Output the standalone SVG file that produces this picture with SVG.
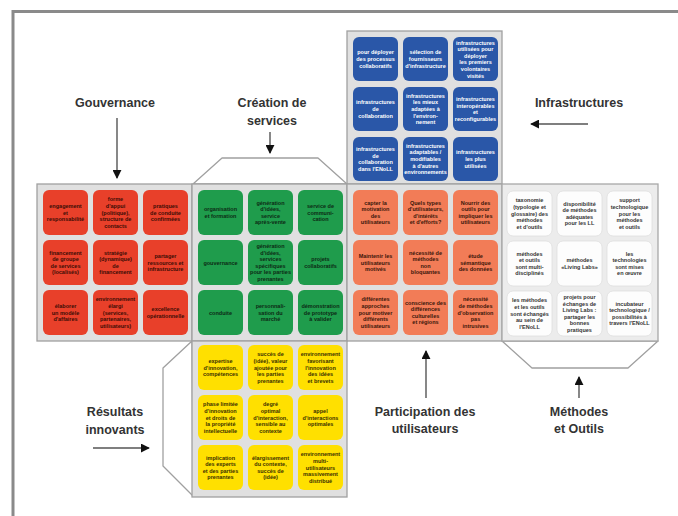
<svg xmlns="http://www.w3.org/2000/svg" width="678" height="516" viewBox="0 0 678 516">
  <style>
    .frame { fill: none; stroke: #8a8a8a; stroke-width: 3; }
    .face { fill: #e0e0e0; stroke: #a0a0a0; stroke-width: 1.3; }
    .face-w { fill: #ececec; stroke: #a8a8a8; stroke-width: 1.3; }
    .lid { fill: #ffffff; stroke: #a0a0a0; stroke-width: 1.3; stroke-linejoin: round; }
    .red { fill: #e8402a; }
    .green { fill: #1f9c4c; }
    .orange { fill: #f27c57; }
    .blue { fill: #2a57a8; }
    .yellow { fill: #ffe000; }
    .white { fill: #fdfdfd; stroke: #dedede; stroke-width: 0.8; }
    .t { font-family: "Liberation Sans", Arial, sans-serif; font-size: 5.5px; font-weight: bold; text-anchor: middle; }
    .tr { fill: #3b0c05; }
    .tg { fill: #0c2a14; }
    .to { fill: #3a160a; }
    .ty { fill: #3a3000; }
    .tw { fill: #333333; }
    .tb { fill: #ffffff; }
    .lbl { font-family: "Liberation Sans", Arial, sans-serif; font-size: 12.5px; font-weight: bold; fill: #333333; text-anchor: middle; }
    .conn { stroke: #555555; stroke-width: 1.4; fill: none; marker-end: url(#head); }
  </style>
  <defs>
    <marker id="head" viewBox="0 0 10 10" refX="9" refY="5" markerWidth="9" markerHeight="9" markerUnits="userSpaceOnUse" orient="auto">
      <path d="M0,0 L10,5 L0,10 z" fill="#111111"/>
    </marker>
  </defs>

  <rect width="678" height="516" fill="#ffffff"/>
  <!-- page frame -->
  <path class="frame" d="M13,516 V11.5 H678"/>

  <!-- lids of the unfolded cube -->
  <g id="lids">
    <path class="lid" d="M193,184 L222,158 H318 L347,184 Z"/>
    <path class="lid" d="M502,341 L532,368 H628 L658,341 Z"/>
    <path class="lid" d="M192,341 L163,368 V466 L193,496 Z"/>
  </g>

  <!-- faces -->
  <g id="faces">
    <rect class="face" x="347" y="31" width="155" height="153"/>
    <rect class="face" x="37" y="184" width="155" height="157"/>
    <rect class="face" x="192" y="184" width="155" height="157"/>
    <rect class="face" x="347" y="184" width="155" height="157"/>
    <rect class="face-w" x="502" y="184" width="156" height="157"/>
    <rect class="face" x="192" y="341" width="155" height="156"/>
  </g>

  <!-- Gouvernance (red) -->
  <g id="gov-1"><rect class="red" x="43" y="190" width="45" height="45" rx="6"/><text class="t tr" x="65.5" y="207.9">engagement<tspan x="65.5" dy="6.6">et</tspan><tspan x="65.5" dy="6.6">responsabilité</tspan></text></g>
  <g id="gov-2"><rect class="red" x="93" y="190" width="45" height="45" rx="6"/><text class="t tr" x="115.5" y="201.3">forme<tspan x="115.5" dy="6.6">d'appui</tspan><tspan x="115.5" dy="6.6">(politique),</tspan><tspan x="115.5" dy="6.6">structure de</tspan><tspan x="115.5" dy="6.6">contacts</tspan></text></g>
  <g id="gov-3"><rect class="red" x="143" y="190" width="45" height="45" rx="6"/><text class="t tr" x="165.5" y="207.9">pratiques<tspan x="165.5" dy="6.6">de conduite</tspan><tspan x="165.5" dy="6.6">confirmées</tspan></text></g>
  <g id="gov-4"><rect class="red" x="43" y="240" width="45" height="45" rx="6"/><text class="t tr" x="65.5" y="254.6">financement<tspan x="65.5" dy="6.6">de groupe</tspan><tspan x="65.5" dy="6.6">de services</tspan><tspan x="65.5" dy="6.6">(localisés)</tspan></text></g>
  <g id="gov-5"><rect class="red" x="93" y="240" width="45" height="45" rx="6"/><text class="t tr" x="115.5" y="254.6">stratégie<tspan x="115.5" dy="6.6">(dynamique)</tspan><tspan x="115.5" dy="6.6">de</tspan><tspan x="115.5" dy="6.6">financement</tspan></text></g>
  <g id="gov-6"><rect class="red" x="143" y="240" width="45" height="45" rx="6"/><text class="t tr" x="165.5" y="257.9">partager<tspan x="165.5" dy="6.6">ressources et</tspan><tspan x="165.5" dy="6.6">infrastructure</tspan></text></g>
  <g id="gov-7"><rect class="red" x="43" y="290" width="45" height="45" rx="6"/><text class="t tr" x="65.5" y="307.9">élaborer<tspan x="65.5" dy="6.6">un modèle</tspan><tspan x="65.5" dy="6.6">d'affaires</tspan></text></g>
  <g id="gov-8"><rect class="red" x="93" y="290" width="45" height="45" rx="6"/><text class="t tr" x="115.5" y="301.3">environnement<tspan x="115.5" dy="6.6">élargi</tspan><tspan x="115.5" dy="6.6">(services,</tspan><tspan x="115.5" dy="6.6">partenaires,</tspan><tspan x="115.5" dy="6.6">utilisateurs)</tspan></text></g>
  <g id="gov-9"><rect class="red" x="143" y="290" width="45" height="45" rx="6"/><text class="t tr" x="165.5" y="311.2">excellence<tspan x="165.5" dy="6.6">opérationnelle</tspan></text></g>

  <!-- Création de services (green) -->
  <g id="srv-1"><rect class="green" x="198" y="190" width="45" height="45" rx="6"/><text class="t tg" x="220.5" y="211.2">organisation<tspan x="220.5" dy="6.6">et formation</tspan></text></g>
  <g id="srv-2"><rect class="green" x="248" y="190" width="45" height="45" rx="6"/><text class="t tg" x="270.5" y="204.6">génération<tspan x="270.5" dy="6.6">d'idées,</tspan><tspan x="270.5" dy="6.6">service</tspan><tspan x="270.5" dy="6.6">après-vente</tspan></text></g>
  <g id="srv-3"><rect class="green" x="298" y="190" width="45" height="45" rx="6"/><text class="t tg" x="320.5" y="207.9">service de<tspan x="320.5" dy="6.6">communi-</tspan><tspan x="320.5" dy="6.6">cation</tspan></text></g>
  <g id="srv-4"><rect class="green" x="198" y="240" width="45" height="45" rx="6"/><text class="t tg" x="220.5" y="264.5">gouvernance</text></g>
  <g id="srv-5"><rect class="green" x="248" y="240" width="45" height="45" rx="6"/><text class="t tg" x="270.5" y="248">génération<tspan x="270.5" dy="6.6">d'idées,</tspan><tspan x="270.5" dy="6.6">services</tspan><tspan x="270.5" dy="6.6">spécifiques</tspan><tspan x="270.5" dy="6.6">pour les parties</tspan><tspan x="270.5" dy="6.6">prenantes</tspan></text></g>
  <g id="srv-6"><rect class="green" x="298" y="240" width="45" height="45" rx="6"/><text class="t tg" x="320.5" y="261.2">projets<tspan x="320.5" dy="6.6">collaboratifs</tspan></text></g>
  <g id="srv-7"><rect class="green" x="198" y="290" width="45" height="45" rx="6"/><text class="t tg" x="220.5" y="314.5">conduite</text></g>
  <g id="srv-8"><rect class="green" x="248" y="290" width="45" height="45" rx="6"/><text class="t tg" x="270.5" y="307.9">personnali-<tspan x="270.5" dy="6.6">sation du</tspan><tspan x="270.5" dy="6.6">marché</tspan></text></g>
  <g id="srv-9"><rect class="green" x="298" y="290" width="45" height="45" rx="6"/><text class="t tg" x="320.5" y="307.9">démonstration<tspan x="320.5" dy="6.6">de prototype</tspan><tspan x="320.5" dy="6.6">à valider</tspan></text></g>

  <!-- Participation des utilisateurs (orange) -->
  <g id="usr-1"><rect class="orange" x="353" y="190" width="45" height="45" rx="6"/><text class="t to" x="375.5" y="204.6">capter la<tspan x="375.5" dy="6.6">motivation</tspan><tspan x="375.5" dy="6.6">des</tspan><tspan x="375.5" dy="6.6">utilisateurs</tspan></text></g>
  <g id="usr-2"><rect class="orange" x="403" y="190" width="45" height="45" rx="6"/><text class="t to" x="425.5" y="204.6">Quels types<tspan x="425.5" dy="6.6">d'utilisateurs,</tspan><tspan x="425.5" dy="6.6">d'intérêts</tspan><tspan x="425.5" dy="6.6">et d'efforts?</tspan></text></g>
  <g id="usr-3"><rect class="orange" x="453" y="190" width="45" height="45" rx="6"/><text class="t to" x="475.5" y="204.6">Nourrir des<tspan x="475.5" dy="6.6">outils pour</tspan><tspan x="475.5" dy="6.6">impliquer les</tspan><tspan x="475.5" dy="6.6">utilisateurs</tspan></text></g>
  <g id="usr-4"><rect class="orange" x="353" y="240" width="45" height="45" rx="6"/><text class="t to" x="375.5" y="257.9">Maintenir les<tspan x="375.5" dy="6.6">utilisateurs</tspan><tspan x="375.5" dy="6.6">motivés</tspan></text></g>
  <g id="usr-5"><rect class="orange" x="403" y="240" width="45" height="45" rx="6"/><text class="t to" x="425.5" y="254.6">nécessité de<tspan x="425.5" dy="6.6">méthodes</tspan><tspan x="425.5" dy="6.6">non</tspan><tspan x="425.5" dy="6.6">bloquantes</tspan></text></g>
  <g id="usr-6"><rect class="orange" x="453" y="240" width="45" height="45" rx="6"/><text class="t to" x="475.5" y="257.9">étude<tspan x="475.5" dy="6.6">sémantique</tspan><tspan x="475.5" dy="6.6">des données</tspan></text></g>
  <g id="usr-7"><rect class="orange" x="353" y="290" width="45" height="45" rx="6"/><text class="t to" x="375.5" y="301.3">différentes<tspan x="375.5" dy="6.6">approches</tspan><tspan x="375.5" dy="6.6">pour motiver</tspan><tspan x="375.5" dy="6.6">différents</tspan><tspan x="375.5" dy="6.6">utilisateurs</tspan></text></g>
  <g id="usr-8"><rect class="orange" x="403" y="290" width="45" height="45" rx="6"/><text class="t to" x="425.5" y="304.6">conscience des<tspan x="425.5" dy="6.6">différences</tspan><tspan x="425.5" dy="6.6">culturelles</tspan><tspan x="425.5" dy="6.6">et régions</tspan></text></g>
  <g id="usr-9"><rect class="orange" x="453" y="290" width="45" height="45" rx="6"/><text class="t to" x="475.5" y="301.3">nécessité<tspan x="475.5" dy="6.6">de méthodes</tspan><tspan x="475.5" dy="6.6">d'observation</tspan><tspan x="475.5" dy="6.6">pas</tspan><tspan x="475.5" dy="6.6">intrusives</tspan></text></g>

  <!-- Infrastructures (blue) -->
  <g id="inf-1"><rect class="blue" x="353" y="37" width="45" height="44" rx="6"/><text class="t tb" x="375.5" y="54.4">pour déployer<tspan x="375.5" dy="6.6">des processus</tspan><tspan x="375.5" dy="6.6">collaboratifs</tspan></text></g>
  <g id="inf-2"><rect class="blue" x="403" y="37" width="45" height="44" rx="6"/><text class="t tb" x="425.5" y="54.4">sélection de<tspan x="425.5" dy="6.6">fournisseurs</tspan><tspan x="425.5" dy="6.6">d'infrastructure</tspan></text></g>
  <g id="inf-3"><rect class="blue" x="453" y="37" width="45" height="44" rx="6"/><text class="t tb" x="475.5" y="44.5">infrastructures<tspan x="475.5" dy="6.6">utilisées pour</tspan><tspan x="475.5" dy="6.6">déployer</tspan><tspan x="475.5" dy="6.6">les premiers</tspan><tspan x="475.5" dy="6.6">volontaires</tspan><tspan x="475.5" dy="6.6">visités</tspan></text></g>
  <g id="inf-4"><rect class="blue" x="353" y="87" width="45" height="44" rx="6"/><text class="t tb" x="375.5" y="104.4">infrastructures<tspan x="375.5" dy="6.6">de</tspan><tspan x="375.5" dy="6.6">collaboration</tspan></text></g>
  <g id="inf-5"><rect class="blue" x="403" y="87" width="45" height="44" rx="6"/><text class="t tb" x="425.5" y="97.8">infrastructures<tspan x="425.5" dy="6.6">les mieux</tspan><tspan x="425.5" dy="6.6">adaptées à</tspan><tspan x="425.5" dy="6.6">l'environ-</tspan><tspan x="425.5" dy="6.6">nement</tspan></text></g>
  <g id="inf-6"><rect class="blue" x="453" y="87" width="45" height="44" rx="6"/><text class="t tb" x="475.5" y="101.1">infrastructures<tspan x="475.5" dy="6.6">interopérables</tspan><tspan x="475.5" dy="6.6">et</tspan><tspan x="475.5" dy="6.6">reconfigurables</tspan></text></g>
  <g id="inf-7"><rect class="blue" x="353" y="137" width="45" height="44" rx="6"/><text class="t tb" x="375.5" y="151.1">infrastructures<tspan x="375.5" dy="6.6">de</tspan><tspan x="375.5" dy="6.6">collaboration</tspan><tspan x="375.5" dy="6.6">dans l'ENoLL</tspan></text></g>
  <g id="inf-8"><rect class="blue" x="403" y="137" width="45" height="44" rx="6"/><text class="t tb" x="425.5" y="147.8">infrastructures<tspan x="425.5" dy="6.6">adaptables /</tspan><tspan x="425.5" dy="6.6">modifiables</tspan><tspan x="425.5" dy="6.6">à d'autres</tspan><tspan x="425.5" dy="6.6">environnements</tspan></text></g>
  <g id="inf-9"><rect class="blue" x="453" y="137" width="45" height="44" rx="6"/><text class="t tb" x="475.5" y="154.4">infrastructures<tspan x="475.5" dy="6.6">les plus</tspan><tspan x="475.5" dy="6.6">utilisées</tspan></text></g>

  <!-- Méthodes et Outils (white) -->
  <g id="met-1"><rect class="white" x="507" y="191" width="45" height="45" rx="6"/><text class="t tw" x="529.5" y="202.3">taxonomie<tspan x="529.5" dy="6.6">(typologie et</tspan><tspan x="529.5" dy="6.6">glossaire) des</tspan><tspan x="529.5" dy="6.6">méthodes</tspan><tspan x="529.5" dy="6.6">et d'outils</tspan></text></g>
  <g id="met-2"><rect class="white" x="557" y="191" width="45" height="45" rx="6"/><text class="t tw" x="579.5" y="205.6">disponibilité<tspan x="579.5" dy="6.6">de méthodes</tspan><tspan x="579.5" dy="6.6">adéquates</tspan><tspan x="579.5" dy="6.6">pour les LL</tspan></text></g>
  <g id="met-3"><rect class="white" x="607" y="191" width="45" height="45" rx="6"/><text class="t tw" x="629.5" y="202.3">support<tspan x="629.5" dy="6.6">technologique</tspan><tspan x="629.5" dy="6.6">pour les</tspan><tspan x="629.5" dy="6.6">méthodes</tspan><tspan x="629.5" dy="6.6">et outils</tspan></text></g>
  <g id="met-4"><rect class="white" x="507" y="241" width="45" height="45" rx="6"/><text class="t tw" x="529.5" y="255.6">méthodes<tspan x="529.5" dy="6.6">et outils</tspan><tspan x="529.5" dy="6.6">sont multi-</tspan><tspan x="529.5" dy="6.6">disciplinés</tspan></text></g>
  <g id="met-5"><rect class="white" x="557" y="241" width="45" height="45" rx="6"/><text class="t tw" x="579.5" y="262.2">méthodes<tspan x="579.5" dy="6.6">«Living Labs»</tspan></text></g>
  <g id="met-6"><rect class="white" x="607" y="241" width="45" height="45" rx="6"/><text class="t tw" x="629.5" y="255.6">les<tspan x="629.5" dy="6.6">technologies</tspan><tspan x="629.5" dy="6.6">sont mises</tspan><tspan x="629.5" dy="6.6">en œuvre</tspan></text></g>
  <g id="met-7"><rect class="white" x="507" y="291" width="45" height="45" rx="6"/><text class="t tw" x="529.5" y="302.3">les méthodes<tspan x="529.5" dy="6.6">et les outils</tspan><tspan x="529.5" dy="6.6">sont échangés</tspan><tspan x="529.5" dy="6.6">au sein de</tspan><tspan x="529.5" dy="6.6">l'ENoLL</tspan></text></g>
  <g id="met-8"><rect class="white" x="557" y="291" width="45" height="45" rx="6"/><text class="t tw" x="579.5" y="299">projets pour<tspan x="579.5" dy="6.6">échanges de</tspan><tspan x="579.5" dy="6.6">Living Labs :</tspan><tspan x="579.5" dy="6.6">partager les</tspan><tspan x="579.5" dy="6.6">bonnes</tspan><tspan x="579.5" dy="6.6">pratiques</tspan></text></g>
  <g id="met-9"><rect class="white" x="607" y="291" width="45" height="45" rx="6"/><text class="t tw" x="629.5" y="305.6">incubateur<tspan x="629.5" dy="6.6">technologique /</tspan><tspan x="629.5" dy="6.6">possibilités à</tspan><tspan x="629.5" dy="6.6">travers l'ENoLL</tspan></text></g>

  <!-- Résultats innovants (yellow) -->
  <g id="res-1"><rect class="yellow" x="198" y="345" width="45" height="45" rx="6"/><text class="t ty" x="220.5" y="362.9">expertise<tspan x="220.5" dy="6.6">d'innovation,</tspan><tspan x="220.5" dy="6.6">compétences</tspan></text></g>
  <g id="res-2"><rect class="yellow" x="248" y="345" width="45" height="45" rx="6"/><text class="t ty" x="270.5" y="356.3">succès de<tspan x="270.5" dy="6.6">(idée), valeur</tspan><tspan x="270.5" dy="6.6">ajoutée pour</tspan><tspan x="270.5" dy="6.6">les parties</tspan><tspan x="270.5" dy="6.6">prenantes</tspan></text></g>
  <g id="res-3"><rect class="yellow" x="298" y="345" width="45" height="45" rx="6"/><text class="t ty" x="320.5" y="356.3">environnement<tspan x="320.5" dy="6.6">favorisant</tspan><tspan x="320.5" dy="6.6">l'innovation</tspan><tspan x="320.5" dy="6.6">des idées</tspan><tspan x="320.5" dy="6.6">et brevets</tspan></text></g>
  <g id="res-4"><rect class="yellow" x="198" y="395" width="45" height="45" rx="6"/><text class="t ty" x="220.5" y="406.3">phase limitée<tspan x="220.5" dy="6.6">d'innovation</tspan><tspan x="220.5" dy="6.6">et droits de</tspan><tspan x="220.5" dy="6.6">la propriété</tspan><tspan x="220.5" dy="6.6">intellectuelle</tspan></text></g>
  <g id="res-5"><rect class="yellow" x="248" y="395" width="45" height="45" rx="6"/><text class="t ty" x="270.5" y="406.3">degré<tspan x="270.5" dy="6.6">optimal</tspan><tspan x="270.5" dy="6.6">d'interaction,</tspan><tspan x="270.5" dy="6.6">sensible au</tspan><tspan x="270.5" dy="6.6">contexte</tspan></text></g>
  <g id="res-6"><rect class="yellow" x="298" y="395" width="45" height="45" rx="6"/><text class="t ty" x="320.5" y="412.9">appel<tspan x="320.5" dy="6.6">d'interactions</tspan><tspan x="320.5" dy="6.6">optimales</tspan></text></g>
  <g id="res-7"><rect class="yellow" x="198" y="445" width="45" height="45" rx="6"/><text class="t ty" x="220.5" y="459.6">implication<tspan x="220.5" dy="6.6">des experts</tspan><tspan x="220.5" dy="6.6">et des parties</tspan><tspan x="220.5" dy="6.6">prenantes</tspan></text></g>
  <g id="res-8"><rect class="yellow" x="248" y="445" width="45" height="45" rx="6"/><text class="t ty" x="270.5" y="459.6">élargissement<tspan x="270.5" dy="6.6">du contexte,</tspan><tspan x="270.5" dy="6.6">succès de</tspan><tspan x="270.5" dy="6.6">(idée)</tspan></text></g>
  <g id="res-9"><rect class="yellow" x="298" y="445" width="45" height="45" rx="6"/><text class="t ty" x="320.5" y="456.3">environnement<tspan x="320.5" dy="6.6">multi-</tspan><tspan x="320.5" dy="6.6">utilisateurs</tspan><tspan x="320.5" dy="6.6">massivement</tspan><tspan x="320.5" dy="6.6">distribué</tspan></text></g>

  <!-- face captions -->
  <g id="label-gouvernance"><text class="lbl" x="115" y="107">Gouvernance</text></g>
  <g id="label-services"><text class="lbl" x="272" y="107">Création de<tspan x="272" dy="18">services</tspan></text></g>
  <g id="label-infrastructures"><text class="lbl" x="579" y="107">Infrastructures</text></g>
  <g id="label-resultats"><text class="lbl" x="115" y="416">Résultats<tspan x="115" dy="18">innovants</tspan></text></g>
  <g id="label-participation"><text class="lbl" x="425" y="416">Participation des<tspan x="425" dy="17">utilisateurs</tspan></text></g>
  <g id="label-methodes"><text class="lbl" x="579" y="416">Méthodes<tspan x="579" dy="17">et Outils</tspan></text></g>

  <!-- arrows from captions to faces -->
  <g id="connectors">
    <path class="conn" d="M117,118 V178"/>
    <path class="conn" d="M270,132 V153"/>
    <path class="conn" d="M588,124 H531"/>
    <path class="conn" d="M93,448 H149"/>
    <path class="conn" d="M426,398 V351"/>
    <path class="conn" d="M579,398 V377"/>
  </g>
</svg>
